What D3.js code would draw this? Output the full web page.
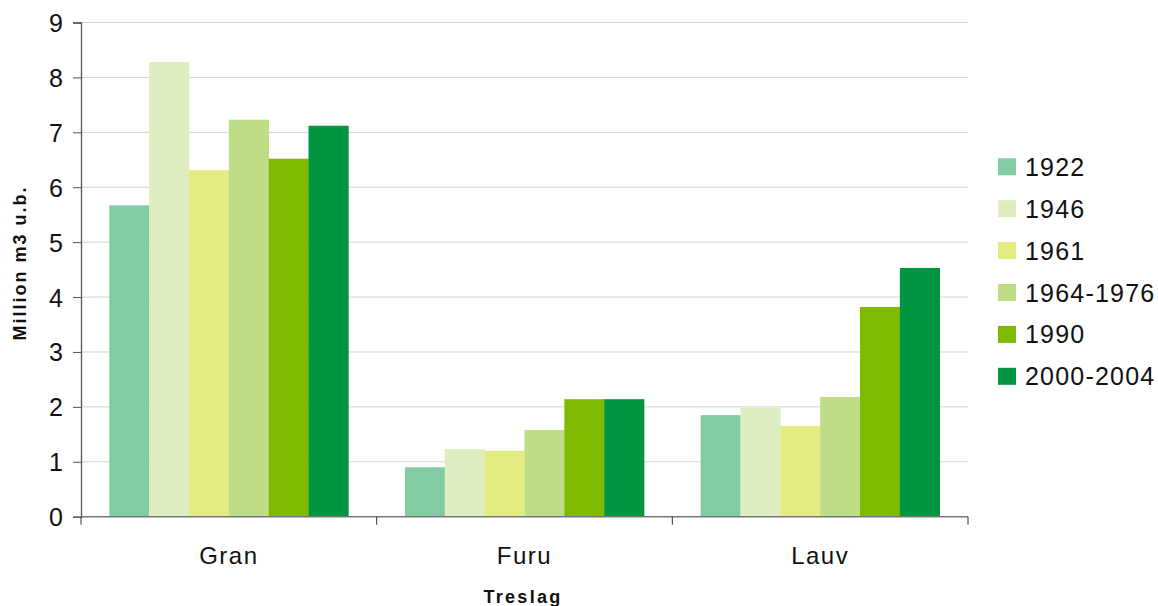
<!DOCTYPE html>
<html>
<head>
<meta charset="utf-8">
<script src="https://cdn.jsdelivr.net/npm/d3@7/dist/d3.min.js"></script>
<style>
  html, body { margin: 0; padding: 0; background: #fff; }
  svg { display: block; font-family: "Liberation Sans", Arial, sans-serif; }
</style>
</head>
<body>
<svg id="chart" width="1158" height="606"></svg>
<script>
// Tree species (Treslag) and survey periods
const categories = ["Gran", "Furu", "Lauv"];
const periods = ["1922", "1946", "1961", "1964-1976", "1990", "2000-2004"];
const colors = ["#82CBA3", "#DEEEC0", "#E3EB83", "#BFDD86", "#7DBA00", "#009540"];

// Volume in million m3 u.b., one array per period (Gran, Furu, Lauv)
const v1922 = [5.67, 0.90, 1.85];
const v1946 = [8.28, 1.23, 1.99];
const v1961 = [6.31, 1.20, 1.65];
const v1964_1976 = [7.23, 1.58, 2.18];
const v1990 = [6.52, 2.14, 3.82];
const v2000_2004 = [7.12, 2.14, 4.53];
const seriesValues = [v1922, v1946, v1961, v1964_1976, v1990, v2000_2004];

const yTicks = [0, 1, 2, 3, 4, 5, 6, 7, 8, 9];

const svg = d3.select("#chart");
const plotLeft = 81, plotRight = 968, plotTop = 22.5, plotBottom = 516.7;

const x0 = d3.scaleBand().domain(categories).range([plotLeft, plotRight]).paddingInner(0).paddingOuter(0);
const groupPad = 0.0957;
const x1 = d3.scaleBand().domain(periods)
  .range([x0.bandwidth() * groupPad, x0.bandwidth() * (1 - groupPad)]).padding(0);
const y = d3.scaleLinear().domain([0, 9]).range([plotBottom, plotTop]);
const color = d3.scaleOrdinal().domain(periods).range(colors);

// Horizontal gridlines
svg.append("g").selectAll("line").data(yTicks.filter(d => d > 0)).join("line")
  .attr("x1", plotLeft).attr("x2", plotRight)
  .attr("y1", d => y(d)).attr("y2", d => y(d))
  .attr("stroke", "#D4D4CC").attr("stroke-width", 1);

// Bars
const groups = svg.append("g").selectAll("g").data(categories).join("g")
  .attr("transform", c => `translate(${x0(c)},0)`);
groups.selectAll("rect")
  .data((c, ci) => periods.map((p, pi) => ({ p, v: seriesValues[pi][ci] })))
  .join("rect")
  .attr("x", d => x1(d.p))
  .attr("width", x1.bandwidth() + 0.3)
  .attr("y", d => y(d.v))
  .attr("height", d => y(0) - y(d.v))
  .attr("fill", d => color(d.p));

// Y axis
const yAxis = svg.append("g").attr("transform", `translate(${plotLeft},0)`)
  .call(d3.axisLeft(y).tickValues(yTicks).tickSize(8).tickPadding(10).tickFormat(d3.format("d")));
yAxis.select(".domain").attr("stroke", "#555").attr("stroke-width", 1.3);
yAxis.selectAll(".tick line").attr("stroke", "#555");
yAxis.selectAll(".tick text").attr("fill", "#111").style("font-size", "25px")
  .attr("dy", "0.36em");

// X axis line and category boundary ticks
const boundaries = [plotLeft, ...categories.slice(1).map(c => x0(c)), plotRight];
svg.append("line").attr("x1", plotLeft).attr("x2", plotRight).attr("y1", plotBottom).attr("y2", plotBottom)
  .attr("stroke", "#777").attr("stroke-width", 1.5);
svg.append("g").selectAll("line").data(boundaries).join("line")
  .attr("x1", d => d).attr("x2", d => d).attr("y1", plotBottom).attr("y2", plotBottom + 8)
  .attr("stroke", "#333").attr("stroke-width", 1);

// Category labels
svg.append("g").selectAll("text").data(categories).join("text")
  .attr("x", c => x0(c) + x0.bandwidth() / 2)
  .attr("y", 564)
  .attr("text-anchor", "middle")
  .attr("fill", "#111")
  .style("font-size", "24px").style("letter-spacing", "1.5px")
  .text(c => c);

// Axis titles
svg.append("text").attr("x", 523).attr("y", 603).attr("text-anchor", "middle")
  .style("font-size", "18px").style("font-weight", "bold").style("letter-spacing", "2.3px")
  .attr("fill", "#111").text("Treslag");
svg.append("text").attr("transform", "translate(26,263) rotate(-90)")
  .attr("text-anchor", "middle")
  .style("font-size", "18px").style("font-weight", "bold").style("letter-spacing", "2px")
  .attr("fill", "#111").text("Million m3 u.b.");

// Legend
const legend = svg.append("g").selectAll("g").data(periods).join("g")
  .attr("transform", (d, i) => `translate(998,${158.3 + i * 41.9})`);
legend.append("rect").attr("width", 18).attr("height", 17).attr("fill", d => color(d));
legend.append("text").attr("x", 27).attr("y", 8.5).attr("dy", "0.36em")
  .style("font-size", "25px").style("letter-spacing", "1.2px").attr("fill", "#111").text(d => d);
</script>
</body>
</html>
